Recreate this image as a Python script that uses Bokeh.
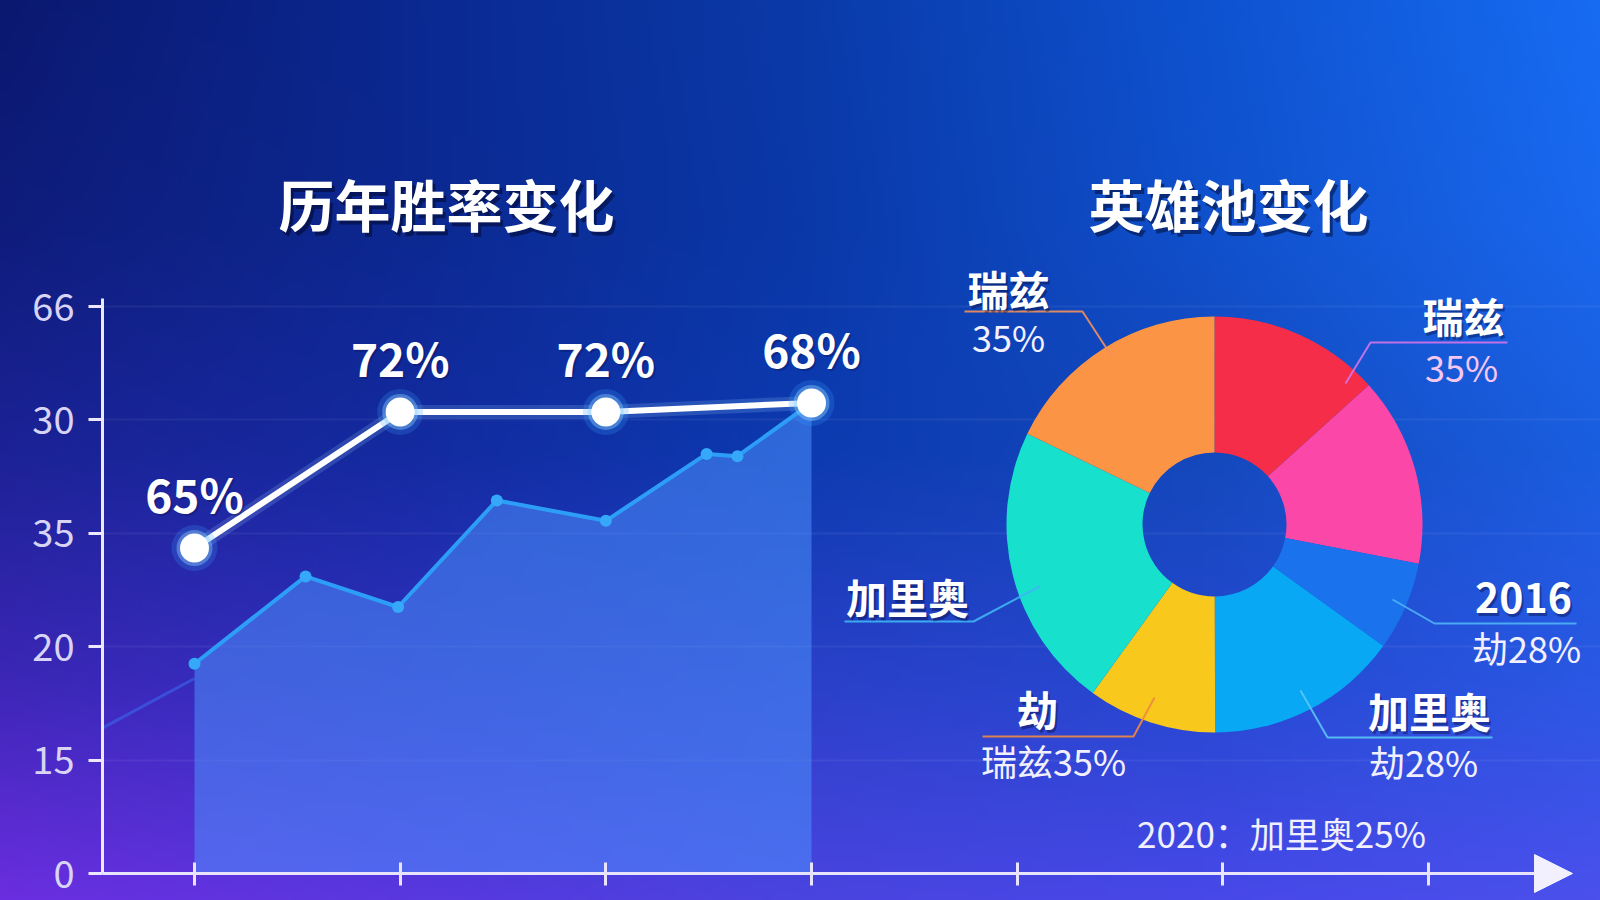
import math, zlib, struct, base64
import numpy as np
from bokeh.plotting import figure
from bokeh.models import FixedTicker, Arrow, NormalHead, ColumnDataSource, Range1d
from bokeh.core.properties import value
from bokeh.embed import file_html
from bokeh.resources import INLINE

# ------------------------------------------------------------------ data
x_ticks = [0, 1, 2, 3, 4, 5, 6]
y_tick_pos = [0, 1, 2, 3, 4, 5]
y_tick_labels = ["0", "15", "20", "35", "30", "66"]

# white win-rate line (positions on the chart's own axis) and its labels
win_x = [0, 1, 2, 3]
win_y = [2.87, 4.07, 4.07, 4.15]
win_labels = ["65%", "72%", "72%", "68%"]

# blue area series
pool_x = [0, 0.54, 0.99, 1.47, 2.0, 2.49, 2.64, 3.0]
pool_y = [1.85, 2.62, 2.35, 3.29, 3.11, 3.70, 3.68, 4.15]

# faint lead-in line left of the area
trend_x = [-0.45, 0]
trend_y = [1.28, 1.72]

# donut (clockwise from 12 o'clock)
hero_shares = [13.3, 14.7, 6.9, 15.0, 10.0, 22.2, 17.8]
hero_colors = ["#f52d48", "#fb48a8", "#1a72ec", "#09a8f4", "#f8c81c", "#17e0cc", "#fb9545"]

donut_titles = ["瑞兹", "瑞兹", "加里奥", "2016", "劫", "加里奥"]
donut_subs = ["35%", "35%", "", "劫28%", "瑞兹35%", "劫28%"]
footnote = "2020：加里奥25%"

# ------------------------------------------------------------------ layout
W, H = 1600, 900
LEFT = 102
X0, XS = 194.0, 205.67     # px of x=0, px per x unit
Y0, YS = 873.0, 113.4      # px of y=0, px per y unit


def dx(px):
    return (px - X0) / XS


def dy(py):
    return (Y0 - py) / YS


CJK = value("Noto Sans CJK SC")

# ------------------------------------------------------------------ background image (page)
grid_hex = [
    ["#0b1870", "#0a2890", "#0a3aa8", "#0e52d0", "#176cf2"],
    ["#0f1c7c", "#0c2890", "#0a38a8", "#1050cc", "#1a68ee"],
    ["#1c2296", "#142aa0", "#0c3ab0", "#1448bc", "#1a5ee0"],
    ["#3c26b6", "#3030c0", "#2a40c8", "#2448d0", "#2a58e4"],
    ["#6b2ee0", "#5a38e0", "#4a44e0", "#4848e8", "#4b50ec"],
]
grid = np.array([[[int(h[i:i + 2], 16) for i in (1, 3, 5)] for h in row] for row in grid_hex], float)
gx = np.linspace(0, 1, 5)
gy = np.linspace(0, 1, 5)
IW, IH = 320, 180
xs = (np.arange(IW) + 0.5) / IW
ys = (np.arange(IH) + 0.5) / IH
img = np.zeros((IH, IW, 3))
for c in range(3):
    rows = np.array([np.interp(xs, gx, grid[r, :, c]) for r in range(5)])
    for j in range(IW):
        img[:, j, c] = np.interp(ys, gy, rows[:, j])
img = np.clip(img, 0, 255).astype(np.uint8)


def png_bytes(a):
    h, w, _ = a.shape
    raw = b"".join(b"\x00" + a[r].tobytes() for r in range(h))

    def chunk(t, d):
        return struct.pack(">I", len(d)) + t + d + struct.pack(">I", zlib.crc32(t + d) & 0xffffffff)

    return (b"\x89PNG\r\n\x1a\n" + chunk(b"IHDR", struct.pack(">IIBBBBB", w, h, 8, 2, 0, 0, 0))
            + chunk(b"IDAT", zlib.compress(raw, 9)) + chunk(b"IEND", b""))


bg_b64 = base64.b64encode(png_bytes(img)).decode()

# ------------------------------------------------------------------ figure
p = figure(width=W, height=H, output_backend="svg", toolbar_location=None,
           x_range=Range1d(dx(LEFT), dx(W)), y_range=Range1d(dy(H), dy(0)),
           min_border_left=LEFT, min_border_right=0, min_border_top=0, min_border_bottom=0,
           background_fill_alpha=0, border_fill_alpha=0, outline_line_color=None)

# x axis: fixed at y=0 inside the frame
xa = p.xaxis[0]
xa.fixed_location = 0
xa.ticker = FixedTicker(ticks=x_ticks)
xa.major_label_overrides = {t: "" for t in x_ticks}
xa.major_label_standoff = 0
xa.axis_line_color = None
xa.major_tick_line_color = "#e8e4ff"
xa.major_tick_line_width = 3
xa.major_tick_in = 11
xa.major_tick_out = 12
xa.minor_tick_line_color = None

ya = p.yaxis[0]
ya.ticker = FixedTicker(ticks=y_tick_pos)
ya.major_label_overrides = {t: l for t, l in zip(y_tick_pos, y_tick_labels)}
ya.bounds = (0, 5.07)
ya.axis_line_color = "#ece8ff"
ya.axis_line_width = 3
ya.major_tick_line_color = "#ece8ff"
ya.major_tick_line_width = 3
ya.major_tick_out = 14
ya.major_tick_in = 0
ya.minor_tick_line_color = None
ya.major_label_standoff = 14
ya.major_label_text_font = "Noto Sans CJK SC"
ya.major_label_text_font_size = "38px"
ya.major_label_text_line_height = 0.9
ya.major_label_text_color = "#d8d4f6"

p.xgrid.visible = False
p.ygrid.ticker = FixedTicker(ticks=y_tick_pos[1:])
p.ygrid.grid_line_color = "#ffffff"
p.ygrid.grid_line_alpha = 0.06
p.ygrid.grid_line_width = 2

# x axis line with arrow head
p.add_layout(Arrow(end=NormalHead(size=38, fill_color="#f2f0ff", line_color="#f2f0ff", line_width=1),
                   x_start=dx(87), y_start=0, x_end=dx(1572), y_end=0,
                   line_color="#e8e4ff", line_width=3))

# area series
p.varea(x=pool_x, y1=0, y2=pool_y, fill_color="#4f94ff", fill_alpha=0.52)
p.line(trend_x, trend_y, line_color="#3a6cf0", line_alpha=0.55, line_width=3)
p.line(pool_x, pool_y, line_color="#2d9ef7", line_width=4)
p.scatter(pool_x, pool_y, size=12, fill_color="#35a8fa", line_color=None)

# white win-rate line
p.line(win_x, win_y, line_color="#9fd6ff", line_alpha=0.18, line_width=14)
p.line(win_x, win_y, line_color="#ffffff", line_width=6)
p.scatter(win_x, win_y, size=46, fill_color="#3aa0ff", fill_alpha=0.22, line_color=None)
p.scatter(win_x, win_y, size=36, fill_color="#8fd2ff", fill_alpha=0.4, line_color=None)
p.scatter(win_x, win_y, size=29, fill_color="#ffffff", line_color=None)
p.text(win_x, win_y, text=win_labels, y_offset=-53, x_offset=2, text_align="center", text_baseline="middle",
       text_font=CJK, text_font_style="bold", text_font_size="46px", text_color="#0a1050", text_alpha=0.35)
p.text(win_x, win_y, text=win_labels, y_offset=-55, text_align="center", text_baseline="middle",
       text_font=CJK, text_font_style="bold", text_font_size="46px", text_color="#ffffff")

# titles
titles = ColumnDataSource(dict(x=[dx(446), dx(1228)], y=[dy(202), dy(202)], t=["历年胜率变化", "英雄池变化"]))
p.text("x", "y", text="t", source=titles, x_offset=3, y_offset=4, text_align="center", text_baseline="middle",
       text_font=CJK, text_font_style="bold", text_font_size="56px", text_color="#000018", text_alpha=0.45)
p.text("x", "y", text="t", source=titles, text_align="center", text_baseline="middle",
       text_font=CJK, text_font_style="bold", text_font_size="56px", text_color="#ffffff")

# donut
total = sum(hero_shares)
cw = np.concatenate([[0.0], np.cumsum(hero_shares)]) / total * 2 * math.pi
donut = ColumnDataSource(dict(start=[math.pi / 2 - e for e in cw[1:]],
                              end=[math.pi / 2 - s for s in cw[:-1]],
                              color=hero_colors))
CX, CY = dx(1214), dy(524)
p.annular_wedge(x=CX, y=CY, inner_radius=72, outer_radius=208,
                inner_radius_units="screen", outer_radius_units="screen",
                start_angle="start", end_angle="end", fill_color="color", line_color=None, source=donut)

# donut labels and leader lines (page px)
title_pos = [(1008, 287), (1463, 314), (907, 595), (1523, 597), (1037, 707), (1429, 709)]
sub_pos = [(1008, 335), (1461, 365), None, (1526, 646), (1053, 759), (1423, 760)]
sub_colors = ["#f2f0ff", "#f5c6f0", "#f2f0ff", "#f2f0ff", "#f2f0ff", "#f2f0ff"]
leaders = [
    [(1112, 357), (1082, 311), (964, 311)],
    [(1345, 383), (1370, 342), (1507, 342)],
    [(1039, 586), (973, 621), (844, 621)],
    [(1392, 599), (1434, 623), (1576, 623)],
    [(1154, 697), (1133, 736), (982, 736)],
    [(1300, 690), (1327, 737), (1492, 737)],
]
leader_colors = ["#f2905c", "#d274ea", "#3fb6f4", "#4fb4f6", "#f08a40", "#5cc4f6"]
p.multi_line(xs=[[dx(a) for a, b in L] for L in leaders], ys=[[dy(b) for a, b in L] for L in leaders],
             line_color=leader_colors, line_width=2, line_alpha=0.9)

tsrc = ColumnDataSource(dict(x=[dx(a) for a, b in title_pos], y=[dy(b) for a, b in title_pos], t=donut_titles))
p.text("x", "y", text="t", source=tsrc, x_offset=2, y_offset=3, text_align="center", text_baseline="middle",
       text_font=CJK, text_font_style="bold", text_font_size="41px", text_color="#000020", text_alpha=0.35)
p.text("x", "y", text="t", source=tsrc, text_align="center", text_baseline="middle",
       text_font=CJK, text_font_style="bold", text_font_size="41px", text_color="#ffffff")

sx = [dx(q[0]) for q in sub_pos if q]
sy = [dy(q[1]) for q in sub_pos if q]
st = [s for s, q in zip(donut_subs, sub_pos) if q]
sc = [c for c, q in zip(sub_colors, sub_pos) if q]
p.text(sx, sy, text=st, text_align="center", text_baseline="middle",
       text_font=CJK, text_font_size="36px", text_color=sc)

p.text([dx(1281)], [dy(832)], text=[footnote], text_align="center", text_baseline="middle",
       text_font=CJK, text_font_size="35px", text_color="#f2f0ff")

html = file_html(p, INLINE, title="历年胜率变化 / 英雄池变化")
style = ("<style>html{min-height:100%;background-color:#1a3aa8;"
         f"background-image:url(data:image/png;base64,{bg_b64});"
         "background-repeat:no-repeat;background-size:100% 100%;}"
         "body{background:transparent;}</style>")
html = html.replace("</head>", style + "</head>", 1)
open("out.html", "w").write(html)
